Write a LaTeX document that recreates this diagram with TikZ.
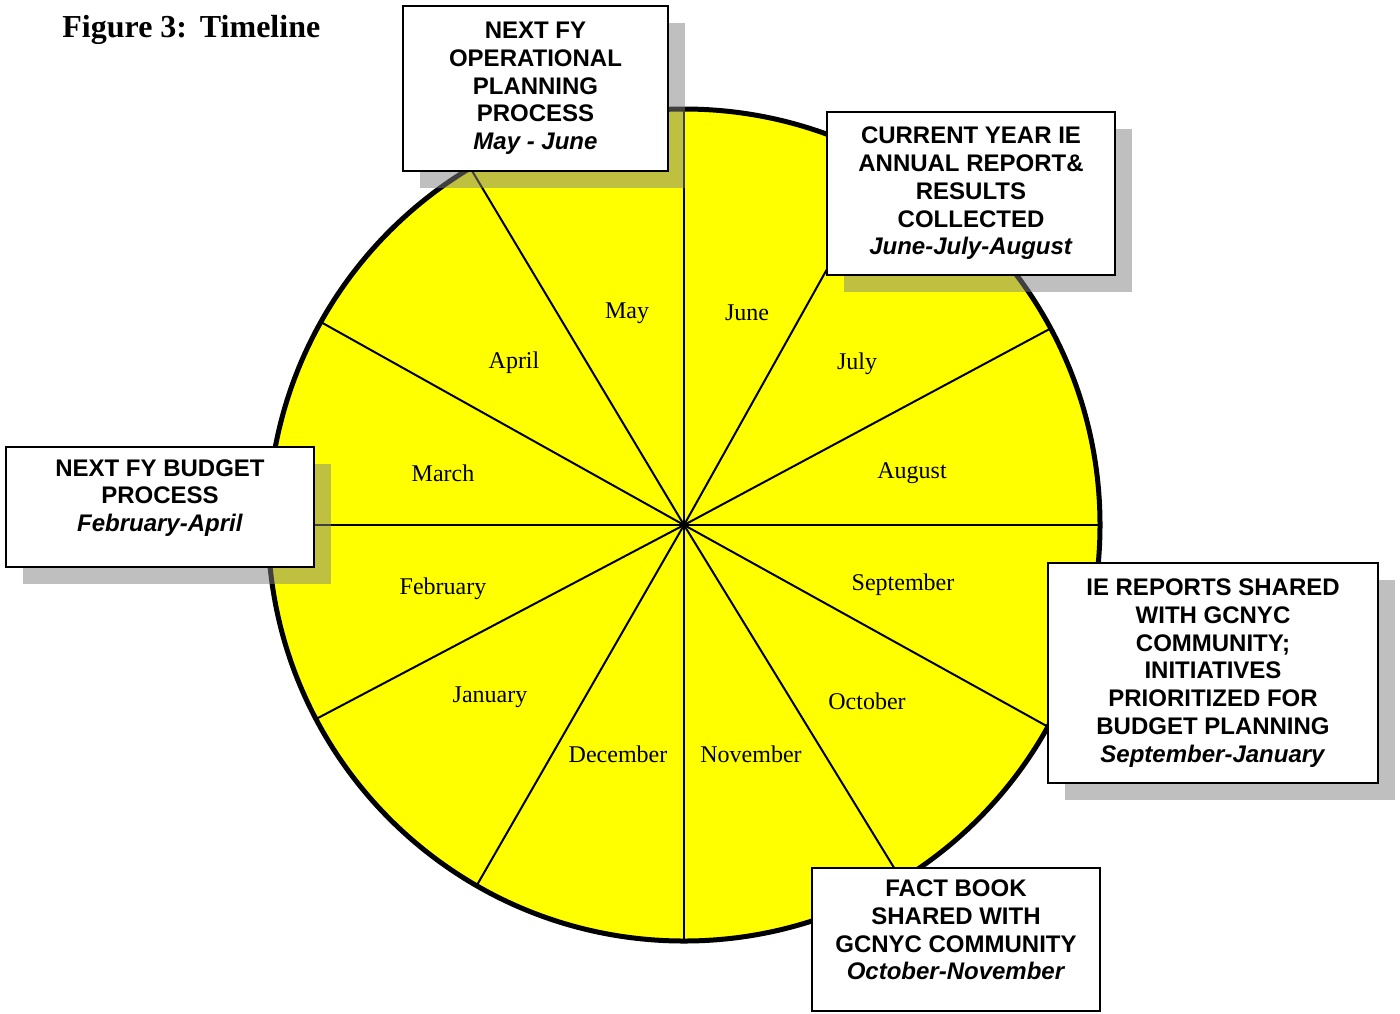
\documentclass[tikz,border=0pt]{standalone}
\usepackage{fontspec}
\setmainfont{Liberation Serif}
\newfontfamily\boxfont{Liberation Sans}
\usetikzlibrary{shadows}
\definecolor{wheelyellow}{RGB}{255,255,0}

\begin{document}
\begin{tikzpicture}[x=0.5pt,y=-0.5pt,
  month/.style={font=\fontsize{12}{14}\selectfont},
  infobox/.style={draw,line width=1pt,fill=white,align=center,inner sep=0pt,
    font=\boxfont\bfseries\fontsize{12}{13.85}\selectfont},
  shadowbox/.style={infobox,drop shadow={shadow xshift=8.5pt,shadow yshift=-8.5pt}}]
  \useasboundingbox (0,0) rectangle (1400,1013);
  \node[font=\bfseries\fontsize{16}{19}\selectfont,anchor=base west,inner sep=0pt] (title) at (62,37) {Figure 3:\hspace{0.4em}Timeline};
  \coordinate (c) at (684,525);
  \fill[wheelyellow] (c) circle[radius=208pt];
  \foreach \a in {90,58.5,29,0,-28.2,-60.8,-90,-120.9,-150.8,180,152.2,119.9}
    \draw[line width=1pt] (c) -- ++(\a:416);
  \draw[line width=2.5pt] (c) circle[radius=208pt];
  \node[month] (jun) at (747,313) {June};
  \node[month] (may) at (627,313) {May};
  \node[month] (jul) at (857,364) {July};
  \node[month] (apr) at (514,363) {April};
  \node[month] (aug) at (912,473) {August};
  \node[month] (mar) at (443,473) {March};
  \node[month] (sep) at (903,585) {September};
  \node[month] (feb) at (443,589) {February};
  \node[month] (oct) at (867,701) {October};
  \node[month] (jan) at (490,697) {January};
  \node[month] (nov) at (751,754) {November};
  \node[month] (dec) at (618,754) {December};
  \node[shadowbox,minimum width=132.5pt,minimum height=82.5pt] (opplan) at (535.5,88.5)
    {NEXT FY\\OPERATIONAL\\PLANNING\\PROCESS\\\textit{May - June}};
  \node[shadowbox,minimum width=144pt,minimum height=81.5pt] (annrep) at (971,193.5)
    {CURRENT YEAR IE\\ANNUAL REPORT\&\\RESULTS\\COLLECTED\\\textit{June-July-August}};
  \node[shadowbox,minimum width=154pt,minimum height=60pt,text depth=11.5pt] (budget) at (160,507)
    {NEXT FY BUDGET\\PROCESS\\\textit{February-April}};
  \node[shadowbox,minimum width=165pt,minimum height=110pt] (iershare) at (1213,673)
    {IE REPORTS SHARED\\WITH GCNYC\\COMMUNITY;\\INITIATIVES\\PRIORITIZED FOR\\BUDGET PLANNING\\\textit{September-January}};
  \node[infobox,minimum width=144pt,minimum height=71.5pt,text depth=9.6pt] (factbook) at (956,939.5)
    {FACT BOOK\\SHARED WITH\\GCNYC COMMUNITY\\\textit{October-November}};
\end{tikzpicture}
\end{document}
